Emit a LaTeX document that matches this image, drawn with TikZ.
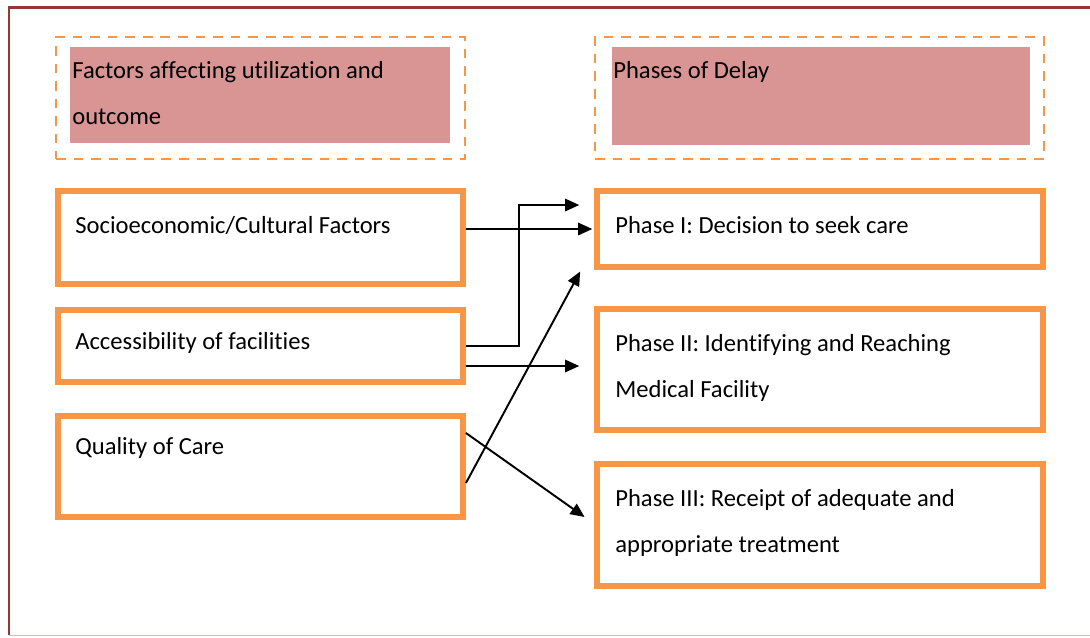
\documentclass[tikz,border=0pt]{standalone}
\usepackage{fontspec}
\setmainfont{Carlito}[Ligatures={NoCommon}]
\usepackage{tikz}
\usetikzlibrary{arrows.meta}
\definecolor{boxorange}{HTML}{F79646}
\definecolor{headpink}{HTML}{D99594}
\definecolor{framered}{HTML}{953735}
\definecolor{framepale}{HTML}{E6B4B3}
\tikzstyle{box}=[shape=rectangle,draw=boxorange,line width=3.4pt]
\tikzstyle{head}=[shape=rectangle,draw=boxorange,dashed,line width=1.5pt,dash pattern=on 5.5pt off 4.5pt]
\tikzstyle{headfill}=[shape=rectangle,fill=headpink,draw=none]
\tikzstyle{txt}=[anchor=base west,inner sep=0pt,align=left,font=\fontsize{14}{26}\selectfont]
\tikzstyle{to}=[-{Triangle[length=8pt,width=7pt]},shorten >=1pt,line width=1.1pt]

\begin{document}
\begin{tikzpicture}[x=0.02cm,y=-0.02cm]
            \useasboundingbox (0,0) rectangle (1090,637);
            % outer frame
            \draw[framered,line width=1.7pt] (1100,7) -- (9,7) -- (9,635);
            \draw[framepale,line width=0.8pt] (9,635.5) -- (1100,635.5);
            % headers
            \node[head,minimum width=8.18cm,minimum height=2.44cm] (HL) at (260.5,98) {}
            ;
            \node[headfill,minimum width=7.6cm,minimum height=1.92cm] (HLf) at (260,95) {}
            ;
            \node[txt] (HLt) at (72,124) {Factors affecting utilization and\\outcome}
            ;
            \node[head,minimum width=8.98cm,minimum height=2.44cm] (HR) at (819.5,98) {}
            ;
            \node[headfill,minimum width=8.36cm,minimum height=1.96cm] (HRf) at (821,96) {}
            ;
            \node[txt] (HRt) at (613,78) {Phases of Delay}
            ;
            % factors
            \node[box,minimum width=8.1cm,minimum height=1.86cm] (L1) at (260.5,237.5) {}
            ;
            \node[txt] (L1t) at (75,233) {Socioeconomic/Cultural Factors}
            ;
            \node[box,minimum width=8.1cm,minimum height=1.44cm] (L2) at (260.5,346) {}
            ;
            \node[txt] (L2t) at (75,349) {Accessibility of facilities}
            ;
            \node[box,minimum width=8.1cm,minimum height=2.02cm] (L3) at (260.5,466.5) {}
            ;
            \node[txt] (L3t) at (75,454) {Quality of Care}
            ;
            % phases
            \node[box,minimum width=8.92cm,minimum height=1.52cm] (R1) at (820,229) {}
            ;
            \node[txt] (R1t) at (615,233) {Phase I: Decision to seek care}
            ;
            \node[box,minimum width=8.92cm,minimum height=2.42cm] (R2) at (820,369.5) {}
            ;
            \node[txt] (R2t) at (615,397) {Phase II: Identifying and Reaching\\Medical Facility}
            ;
            \node[box,minimum width=8.92cm,minimum height=2.44cm] (R3) at (820,525) {}
            ;
            \node[txt] (R3t) at (615,552) {Phase III: Receipt of adequate and\\appropriate treatment}
            ;
            % arrows
            \coordinate (e1) at (581,205);
            \coordinate (e2) at (581,366);
            \coordinate (e3) at (586,518);
            \coordinate (e4) at (581,270);
            \draw[to] (L1.east |- R1.west) -- (R1.west);
            \draw[to] (L2.east) -- ++(53,0) |- (e1);
            \draw[to] ([yshift=-0.4cm]L2.east) -- (e2);
            \draw[to] ([yshift=0.67cm]L3.east) -- (e3);
            \draw[to] ([yshift=-0.33cm]L3.east) -- (e4);
        \end{tikzpicture}
\end{document}
